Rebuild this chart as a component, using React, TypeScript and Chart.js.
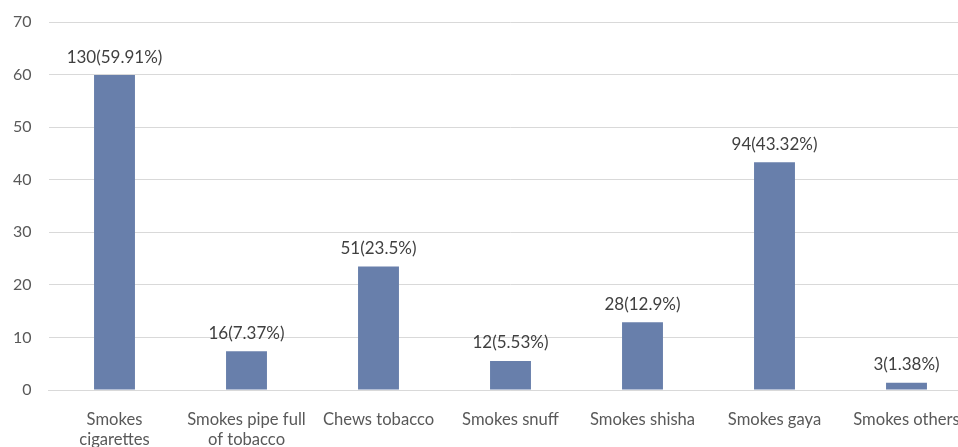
import React, { useEffect, useRef } from "react";
import { Chart, registerables } from "chart.js";

Chart.register(...registerables);

const categories: (string | string[])[] = [
  ["Smokes", "cigarettes"],
  ["Smokes pipe full", "of tobacco"],
  "Chews tobacco",
  "Smokes snuff",
  "Smokes shisha",
  "Smokes gaya",
  "Smokes others",
];
const percentValues = [59.91, 7.37, 23.5, 5.53, 12.9, 43.32, 1.38];
const counts = [130, 16, 51, 12, 28, 94, 3];
const percentLabels = ["59.91%", "7.37%", "23.5%", "5.53%", "12.9%", "43.32%", "1.38%"];
const yTicks = [0, 10, 20, 30, 40, 50, 60, 70];

const FONT = "Lato, 'Open Sans', sans-serif";

const labelPlugin = {
  id: "barLabels",
  afterDatasetsDraw(chart: any) {
    const ctx = chart.ctx;
    const meta = chart.getDatasetMeta(0);
    ctx.save();
    ctx.font = `17px ${FONT}`;
    ctx.fillStyle = "#404040";
    ctx.textAlign = "center";
    ctx.textBaseline = "middle";
    meta.data.forEach((el: any, i: number) => {
      const text = `${counts[i]}(${percentLabels[i]})`;
      ctx.fillText(text, el.x, el.y - 18);
    });
    ctx.restore();
  },
};

export default function App() {
  const ref = useRef<HTMLCanvasElement>(null);
  useEffect(() => {
    if (!ref.current) return;
    const chart = new Chart(ref.current, {
      type: "bar",
      data: {
        labels: categories,
        datasets: [
          {
            data: percentValues,
            backgroundColor: "#687fab",
            categoryPercentage: 1,
            barPercentage: 0.31,
          },
        ],
      },
      options: {
        animation: false,
        responsive: true,
        maintainAspectRatio: false,
        layout: { padding: { top: 22, right: 17.5, left: 0, bottom: 0 } },
        plugins: { legend: { display: false }, tooltip: { enabled: false } },
        scales: {
          x: {
            grid: { display: false },
            border: { display: true, color: "#d9d9d9", width: 1 },
            ticks: {
              color: "#595959",
              font: { family: FONT, size: 16.6 },
              maxRotation: 0,
              minRotation: 0,
              autoSkip: false,
              padding: 12,
            },
            afterFit: (s: any) => {
              s.height = 57;
              s.paddingLeft = 0;
              s.paddingRight = 0;
            },
          },
          y: {
            min: 0,
            max: 70,
            afterBuildTicks: (s: any) => {
              s.ticks = yTicks.map((v) => ({ value: v }));
            },
            grid: { color: "#d9d9d9", drawTicks: false },
            border: { display: false },
            ticks: {
              color: "#595959",
              font: { family: FONT, size: 16 },
              padding: 17,
            },
            afterFit: (s: any) => {
              s.width = 48.5;
              s.paddingTop = 0;
              s.paddingBottom = 0;
            },
          },
        },
      },
      plugins: [labelPlugin],
    });
    return () => chart.destroy();
  }, []);
  return (
    <div
      style={{
        position: "fixed",
        left: 0,
        top: 0,
        width: 958,
        height: 447,
        overflow: "hidden",
        background: "#fff",
      }}
    >
      <div style={{ width: 990, height: 447, position: "relative" }}>
        <canvas ref={ref} />
      </div>
    </div>
  );
}
